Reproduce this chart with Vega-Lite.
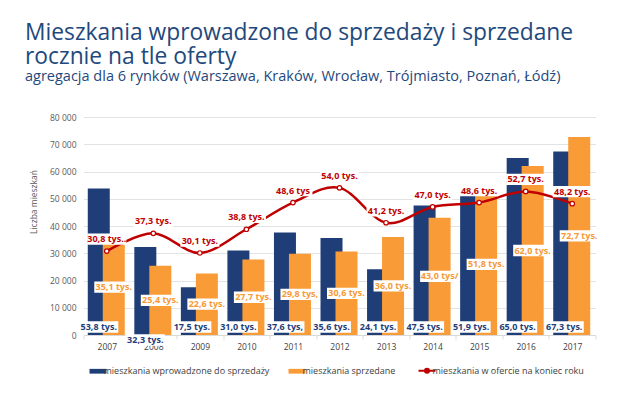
{
  "$schema": "https://vega.github.io/schema/vega-lite/v6.json",
  "width": 512,
  "height": 218,
  "autosize": {"type": "none"},
  "padding": {"left": 83.5, "top": 117, "right": 47.5, "bottom": 59},
  "background": "white",
  "title": {
    "text": ["Mieszkania wprowadzone do sprzedaży i sprzedane", "rocznie na tle oferty"],
    "subtitle": "agregacja dla 6 rynków (Warszawa, Kraków, Wrocław, Trójmiasto, Poznań, Łódź)",
    "anchor": "start",
    "frame": "group",
    "dx": -58.5,
    "offset": 30,
    "font": "Open Sans",
    "fontSize": 22.8,
    "fontWeight": "normal",
    "color": "#1F497D",
    "lineHeight": 24,
    "subtitleFont": "Open Sans",
    "subtitleFontSize": 14.5,
    "subtitleColor": "#1F497D",
    "subtitlePadding": 1
  },
  "data": {
    "values": [
      {"rok": "2007", "wprowadzone": 53800, "sprzedane": 35100, "oferta": 30800, "lw": "53,8 tys.", "ls": "35,1 tys.", "lo": "30,8 tys.."},
      {"rok": "2008", "wprowadzone": 32300, "sprzedane": 25400, "oferta": 37300, "lw": "32,3 tys.", "ls": "25,4 tys.", "lo": "37,3 tys."},
      {"rok": "2009", "wprowadzone": 17500, "sprzedane": 22600, "oferta": 30100, "lw": "17,5 tys.", "ls": "22,6 tys.", "lo": "30,1 tys."},
      {"rok": "2010", "wprowadzone": 31000, "sprzedane": 27700, "oferta": 38800, "lw": "31,0 tys.", "ls": "27,7 tys.", "lo": "38,8 tys."},
      {"rok": "2011", "wprowadzone": 37600, "sprzedane": 29800, "oferta": 48600, "lw": "37,6 tys,", "ls": "29,8 tys,", "lo": "48,6 tys"},
      {"rok": "2012", "wprowadzone": 35600, "sprzedane": 30600, "oferta": 54000, "lw": "35,6 tys.", "ls": "30,6 tys.", "lo": "54,0 tys."},
      {"rok": "2013", "wprowadzone": 24100, "sprzedane": 36000, "oferta": 41200, "lw": "24,1 tys.", "ls": "36,0 tys.", "lo": "41,2 tys."},
      {"rok": "2014", "wprowadzone": 47500, "sprzedane": 43000, "oferta": 47000, "lw": "47,5 tys.", "ls": "43,0 tys/", "lo": "47,0 tys."},
      {"rok": "2015", "wprowadzone": 51900, "sprzedane": 51800, "oferta": 48600, "lw": "51,9 tys.", "ls": "51,8 tys.", "lo": "48,6 tys."},
      {"rok": "2016", "wprowadzone": 65000, "sprzedane": 62000, "oferta": 52700, "lw": "65,0 tys.", "ls": "62,0 tys.", "lo": "52,7 tys."},
      {"rok": "2017", "wprowadzone": 67300, "sprzedane": 72700, "oferta": 48200, "lw": "67,3 tys.", "ls": "72,7 tys.", "lo": "48,2 tys."}
    ]
  },
  "encoding": {
    "x": {
      "field": "rok",
      "type": "ordinal",
      "scale": {"paddingInner": 0, "paddingOuter": 0},
      "axis": {
        "title": null,
        "labelAngle": 0,
        "labelFont": "Open Sans",
        "labelFontSize": 8.5,
        "labelColor": "#404040",
        "labelPadding": 3,
        "tickBand": "extent",
        "tickSize": 4,
        "tickColor": "#D9D9D9",
        "domainColor": "#D9D9D9",
        "grid": false
      }
    }
  },
  "layer": [
    {
      "layer": [
        {
          "mark": {"type": "bar", "width": 22, "xOffset": -8},
          "encoding": {
            "y": {
              "field": "wprowadzone",
              "type": "quantitative",
              "scale": {"domain": [0, 80000], "nice": false},
              "axis": {
                "title": "Liczba mieszkań",
                "titleFont": "Open Sans",
                "titleFontSize": 8.5,
                "titleFontWeight": "normal",
                "titleColor": "#595959",
                "titleX": -50,
                "titleY": 84.5,
                "titleAngle": 270,
                "titleAlign": "center",
                "titleBaseline": "middle",
                "values": [0, 10000, 20000, 30000, 40000, 50000, 60000, 70000, 80000],
                "labelOverlap": false,
                "labelExpr": "replace(format(datum.value, ','), ',', ' ')",
                "labelFont": "Open Sans",
                "labelFontSize": 8.5,
                "labelColor": "#595959",
                "labelPadding": 7.5,
                "ticks": false,
                "tickSize": 0,
                "domain": false,
                "grid": true,
                "gridColor": "#E3E3E3"
              }
            },
            "color": {
              "datum": "mieszkania wprowadzone do sprzedaży",
              "legend": {
                "encode": {
                  "symbols": {
                    "update": {
                      "shape": {"signal": "datum.label === 'mieszkania w ofercie na koniec roku' ? 'M-1,0H-0.24M0.24,0H1M0.24,0A0.24,0.24 0 1 1 -0.24,0A0.24,0.24 0 1 1 0.24,0Z' : 'M-1,-0.28H1V0.28H-1Z'"},
                      "fill": {"signal": "datum.label === 'mieszkania w ofercie na koniec roku' ? '#ffffff' : scale('color', datum.value)"},
                      "stroke": {"signal": "datum.label === 'mieszkania w ofercie na koniec roku' ? '#C00000' : 'transparent'"},
                      "strokeWidth": {"signal": "datum.label === 'mieszkania w ofercie na koniec roku' ? 2 : 0"},
                      "opacity": {"value": 1}
                    }
                  }
                }
              }
            }
          }
        },
        {
          "mark": {"type": "bar", "width": 22, "xOffset": 7},
          "encoding": {
            "y": {
              "field": "sprzedane",
              "type": "quantitative",
              "axis": {
                "title": "Liczba mieszkań",
                "titleFont": "Open Sans",
                "titleFontSize": 8.5,
                "titleFontWeight": "normal",
                "titleColor": "#595959",
                "titleX": -50,
                "titleY": 84.5,
                "titleAngle": 270,
                "titleAlign": "center",
                "titleBaseline": "middle",
                "values": [0, 10000, 20000, 30000, 40000, 50000, 60000, 70000, 80000],
                "labelOverlap": false,
                "labelExpr": "replace(format(datum.value, ','), ',', ' ')",
                "labelFont": "Open Sans",
                "labelFontSize": 8.5,
                "labelColor": "#595959",
                "labelPadding": 7.5,
                "ticks": false,
                "tickSize": 0,
                "domain": false,
                "grid": true,
                "gridColor": "#E3E3E3"
              }
            },
            "color": {"datum": "mieszkania sprzedane"}
          }
        }
      ]
    },
    {
      "encoding": {
        "y": {"field": "sprzedane", "type": "quantitative", "scale": {"domain": [0, 160000], "nice": false}, "axis": null}
      },
      "layer": [
        {
          "mark": {"type": "point", "shape": "M-1,-0.29H1V0.29H-1Z", "size": 1521, "filled": true, "fill": "white", "opacity": 1, "xOffset": 7}
        },
        {
          "mark": {"type": "text", "font": "Open Sans", "fontSize": 9, "fontWeight": "bold", "color": "#F79A36", "xOffset": 7, "baseline": "middle"},
          "encoding": {"text": {"field": "ls"}}
        }
      ]
    },
    {
      "encoding": {
        "y": {"field": "oferta", "type": "quantitative", "scale": {"domain": [0, 80000], "nice": false}, "axis": null}
      },
      "layer": [
        {
          "transform": [{"filter": "datum.rok != '2008'"}],
          "mark": {"type": "point", "shape": "M-1,-0.29H1V0.29H-1Z", "size": 1521, "filled": true, "fill": "white", "opacity": 1, "xOffset": -8, "yOffset": -8},
          "encoding": {"y": {"datum": 0, "type": "quantitative"}}
        },
        {
          "transform": [{"filter": "datum.rok != '2008'"}],
          "mark": {"type": "text", "font": "Open Sans", "fontSize": 9, "fontWeight": "bold", "color": "#1F3E78", "xOffset": -8, "yOffset": -8, "baseline": "middle"},
          "encoding": {"y": {"datum": 0, "type": "quantitative"}, "text": {"field": "lw"}}
        },
        {
          "transform": [{"filter": "datum.rok == '2008'"}],
          "mark": {"type": "point", "shape": "M-1,-0.29H1V0.29H-1Z", "size": 1521, "filled": true, "fill": "white", "opacity": 1, "xOffset": -8, "yOffset": 5},
          "encoding": {"y": {"datum": 0, "type": "quantitative"}}
        },
        {
          "transform": [{"filter": "datum.rok == '2008'"}],
          "mark": {"type": "text", "font": "Open Sans", "fontSize": 9, "fontWeight": "bold", "color": "#1F3E78", "xOffset": -8, "yOffset": 5, "baseline": "middle"},
          "encoding": {"y": {"datum": 0, "type": "quantitative"}, "text": {"field": "lw"}}
        },
        {
          "mark": {"type": "line", "interpolate": "cardinal", "strokeWidth": 2.5},
          "encoding": {"color": {"datum": "mieszkania w ofercie na koniec roku"}}
        },
        {
          "mark": {"type": "point", "filled": true, "fill": "white", "stroke": "#C00000", "strokeWidth": 1.2, "size": 20, "opacity": 1}
        },
        {
          "mark": {"type": "point", "shape": "M-1,-0.29H1V0.29H-1Z", "size": 1521, "filled": true, "fill": "white", "opacity": 1, "yOffset": -12}
        },
        {
          "mark": {"type": "text", "font": "Open Sans", "fontSize": 9, "fontWeight": "bold", "color": "#C00000", "yOffset": -12, "baseline": "middle"},
          "encoding": {"text": {"field": "lo"}}
        }
      ]
    }
  ],
  "resolve": {"scale": {"y": "independent"}},
  "config": {
    "view": {"stroke": null},
    "range": {"category": ["#1F3E78", "#F99B37", "#C00000"]},
    "legend": {
      "orient": "none",
      "legendX": 10,
      "legendY": 249,
      "direction": "horizontal",
      "title": null,
      "symbolType": "M-1,-0.28H1V0.28H-1Z",
      "symbolSize": 289,
      "symbolStrokeWidth": 0,
      "labelFont": "Open Sans",
      "labelFontSize": 9,
      "labelColor": "#404040",
      "labelOffset": 1,
      "labelLimit": 400,
      "columnPadding": 19
    }
  }
}
